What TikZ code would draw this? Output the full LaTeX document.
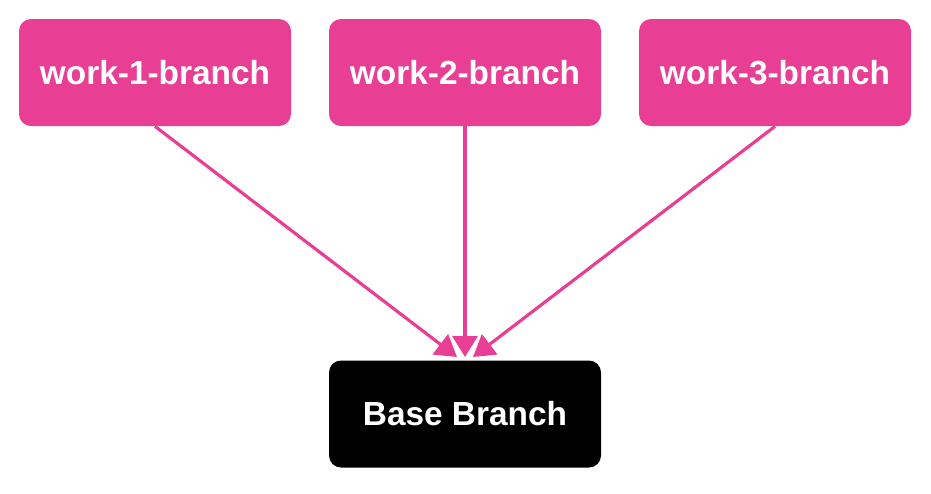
\documentclass[tikz,border=0pt]{standalone}
\usepackage{fontspec}
\setmainfont{Liberation Sans}
\usetikzlibrary{arrows.meta}
\definecolor{branchpink}{RGB}{232,62,148}
\tikzset{
	branchbox/.style={rectangle, rounded corners=0.24cm, minimum width=5.44cm, minimum height=2.14cm, text=white, font=\fontsize{19}{23}\selectfont\bfseries, inner sep=0pt},
	mergeline/.style={branchpink, line width=1.8pt, -{Triangle[length=0.42cm, width=0.5cm]}}
}
\begin{document}
\begin{tikzpicture} [>=stealth]
		\useasboundingbox (0,0) rectangle (18.62,-9.86);
		\node[branchbox, fill=branchpink] (w1) at (3.1,-1.45) {work-1-branch};
		\node[branchbox, fill=branchpink] (w2) at (9.3,-1.45) {work-2-branch};
		\node[branchbox, fill=branchpink] (w3) at (15.5,-1.45) {work-3-branch};
		\node[branchbox, fill=black] (base) at (9.3,-8.28) {Base Branch};
		\coordinate (t1) at (9.14,-7.14);
		\coordinate (t2) at (9.3,-7.14);
		\coordinate (t3) at (9.46,-7.14);
		\draw[mergeline] (w1.south) -- (t1);
		\draw[mergeline] (w2.south) -- (t2);
		\draw[mergeline] (w3.south) -- (t3);
\end{tikzpicture}
\end{document}
